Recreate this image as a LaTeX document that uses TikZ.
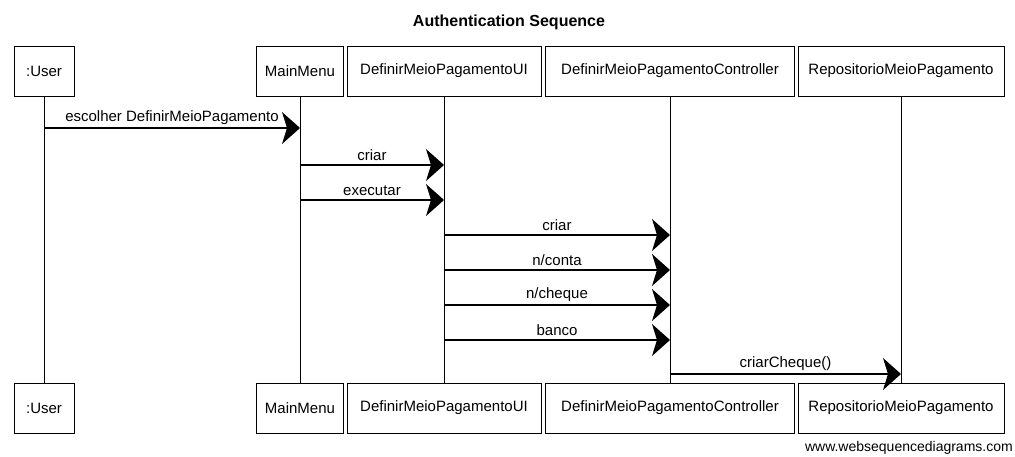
\documentclass[tikz,border=0pt]{standalone}
\usepackage{fontspec}
\setmainfont{Liberation Sans}
\usetikzlibrary{arrows.meta}
\tikzset{l/.style={font=\fontsize{15}{15}\selectfont}}
\tikzset{part/.style={draw,line width=1pt,minimum height=50pt,inner sep=0pt,l}}
\tikzset{msg/.style={line width=1.1pt,-{Stealth[length=18pt,width=32pt,inset=5pt]}}}
\tikzset{life/.style={line width=0.8pt}}
\begin{document}
\begin{tikzpicture}[x=1pt,y=-1pt]
        \useasboundingbox (0,0) rectangle (1015,456);
        \node[font=\fontsize{16}{16}\selectfont\bfseries] (title) at (509,22) {Authentication Sequence};
        % participants, top row
        \node[part,minimum width=60pt] (userT) at (44,71) {:User};
        \node[part,minimum width=87pt] (menuT) at (300,71) {MainMenu};
        \node[part,minimum width=194pt] (uiT) at (444,71) {DefinirMeioPagamentoUI};
        \node[part,minimum width=249pt] (ctrlT) at (670,71) {DefinirMeioPagamentoController};
        \node[part,minimum width=206pt] (repoT) at (901,71) {RepositorioMeioPagamento};
        % participants, bottom row
        \node[part,minimum width=60pt] (userB) at (44,408) {:User}
          edge [life] (userT);
        \node[part,minimum width=87pt] (menuB) at (300,408) {MainMenu}
          edge [life] (menuT);
        \node[part,minimum width=194pt] (uiB) at (444,408) {DefinirMeioPagamentoUI}
          edge [life] (uiT);
        \node[part,minimum width=249pt] (ctrlB) at (670,408) {DefinirMeioPagamentoController}
          edge [life] (ctrlT);
        \node[part,minimum width=206pt] (repoB) at (901,408) {RepositorioMeioPagamento}
          edge [life] (repoT);
        % message rows
        \coordinate (r1) at (0,128);
        \coordinate (r2) at (0,165);
        \coordinate (r3) at (0,200);
        \coordinate (r4) at (0,235);
        \coordinate (r5) at (0,270);
        \coordinate (r6) at (0,305);
        \coordinate (r7) at (0,340);
        \coordinate (r8) at (0,374);
        \draw[msg] (userT |- r1) -- node [l, above] {escolher DefinirMeioPagamento} (menuT |- r1);
        \draw[msg] (menuT |- r2) -- node [l, above] {criar} (uiT |- r2);
        \draw[msg] (menuT |- r3) -- node [l, above] {executar} (uiT |- r3);
        \draw[msg] (uiT |- r4) -- node [l, above] {criar} (ctrlT |- r4);
        \draw[msg] (uiT |- r5) -- node [l, above] {n/conta} (ctrlT |- r5);
        \draw[msg] (uiT |- r6) -- node [l, above] {n/cheque} (ctrlT |- r6);
        \draw[msg] (uiT |- r7) -- node [l, above] {banco} (ctrlT |- r7);
        \draw[msg] (ctrlT |- r8) -- node [l, above] {criarCheque()} (repoT |- r8);
        \node[anchor=east,inner sep=0pt,font=\fontsize{14}{14}\selectfont] (site) at (1013,448) {www.websequencediagrams.com};
      \end{tikzpicture}
\end{document}
